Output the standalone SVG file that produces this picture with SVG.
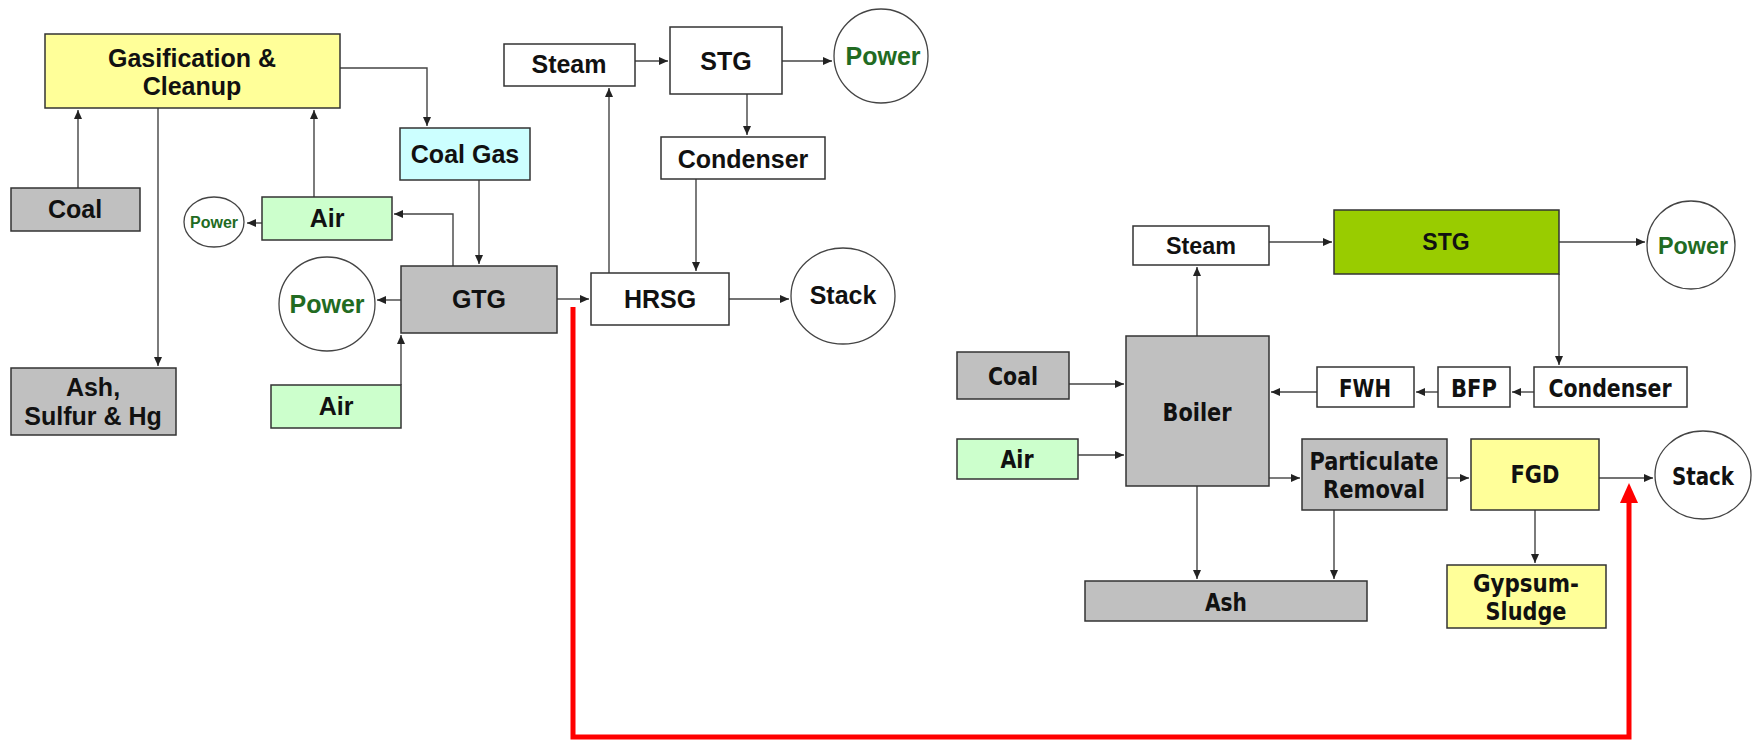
<svg xmlns="http://www.w3.org/2000/svg" width="1757" height="740" viewBox="0 0 1757 740">
<defs>
<style>
.b{stroke:#333;stroke-width:1.5}
.gray{fill:#C0C0C0}.yel{fill:#FFFF99}.grn{fill:#CCFFCC}.cyan{fill:#CCFFFF}.wht{fill:#FFFFFF}.lime{fill:#99CC00}
.c{fill:#fff;stroke:#444;stroke-width:1.3}
.t{font-family:"Liberation Sans",Arial,sans-serif;font-weight:bold;font-size:25px;fill:#111;text-anchor:middle}
.tr{font-family:"Liberation Sans",Arial,sans-serif;font-weight:bold;font-size:23px;fill:#111;text-anchor:middle}
.tc{font-family:"DejaVu Sans Condensed","DejaVu Sans",sans-serif;font-stretch:condensed;font-weight:bold;font-size:25px;fill:#111;text-anchor:middle}
.pw{fill:#226B22}
.ln{fill:none;stroke:#444;stroke-width:1.4}
</style>
<marker id="ah" markerWidth="10" markerHeight="10" refX="9" refY="5" orient="auto" markerUnits="userSpaceOnUse">
<path d="M0,1 L9,5 L0,9 Z" fill="#222"/>
</marker>
</defs>
<rect width="1757" height="740" fill="#fff"/>

<g id="connectors">
<path class="ln" d="M78,188 V110" marker-end="url(#ah)"/>
<path class="ln" d="M158,108 V366" marker-end="url(#ah)"/>
<path class="ln" d="M340,68 H427 V126" marker-end="url(#ah)"/>
<path class="ln" d="M314,197 V110" marker-end="url(#ah)"/>
<path class="ln" d="M262,223 H247" marker-end="url(#ah)"/>
<path class="ln" d="M453,266 V214 H394" marker-end="url(#ah)"/>
<path class="ln" d="M479,180 V264" marker-end="url(#ah)"/>
<path class="ln" d="M401,300 H377" marker-end="url(#ah)"/>
<path class="ln" d="M401,385 V335" marker-end="url(#ah)"/>
<path class="ln" d="M557,299 H589" marker-end="url(#ah)"/>
<path class="ln" d="M729,299 H789" marker-end="url(#ah)"/>
<path class="ln" d="M609,273 V88" marker-end="url(#ah)"/>
<path class="ln" d="M635,61 H668" marker-end="url(#ah)"/>
<path class="ln" d="M782,61 H832" marker-end="url(#ah)"/>
<path class="ln" d="M747,94 V135" marker-end="url(#ah)"/>
<path class="ln" d="M696,179 V271" marker-end="url(#ah)"/>

<path class="ln" d="M1197,336 V267" marker-end="url(#ah)"/>
<path class="ln" d="M1269,242 H1332" marker-end="url(#ah)"/>
<path class="ln" d="M1559,242 H1645" marker-end="url(#ah)"/>
<path class="ln" d="M1559,274 V365" marker-end="url(#ah)"/>
<path class="ln" d="M1534,392 H1512" marker-end="url(#ah)"/>
<path class="ln" d="M1438,392 H1416" marker-end="url(#ah)"/>
<path class="ln" d="M1317,392 H1271" marker-end="url(#ah)"/>
<path class="ln" d="M1069,384 H1124" marker-end="url(#ah)"/>
<path class="ln" d="M1078,455 H1124" marker-end="url(#ah)"/>
<path class="ln" d="M1269,478 H1300" marker-end="url(#ah)"/>
<path class="ln" d="M1447,478 H1469" marker-end="url(#ah)"/>
<path class="ln" d="M1599,478 H1653" marker-end="url(#ah)"/>
<path class="ln" d="M1197,486 V579" marker-end="url(#ah)"/>
<path class="ln" d="M1334,510 V579" marker-end="url(#ah)"/>
<path class="ln" d="M1535,510 V563" marker-end="url(#ah)"/>

<path d="M573,307 V737 H1629 V500" fill="none" stroke="#FF0000" stroke-width="5"/>
<path d="M1629,483 L1638,503 L1620,503 Z" fill="#FF0000"/>
</g>

<g id="gasification"><rect class="b yel" x="45" y="34" width="295" height="74"/><text class="t" x="192" y="67">Gasification &amp;</text><text class="t" x="192" y="95">Cleanup</text></g>
<g id="coal-left"><rect class="b gray" x="11" y="188" width="129" height="43"/><text class="t" x="75" y="218">Coal</text></g>
<g id="ash-sulfur"><rect class="b gray" x="11" y="368" width="165" height="67"/><text class="t" x="93" y="396">Ash,</text><text class="t" x="93" y="425">Sulfur &amp; Hg</text></g>
<g id="coal-gas"><rect class="b cyan" x="400" y="128" width="130" height="52"/><text class="t" x="465" y="163">Coal Gas</text></g>
<g id="air-top"><rect class="b grn" x="262" y="197" width="130" height="43"/><text class="t" x="327" y="227">Air</text></g>
<g id="power-small"><ellipse class="c" cx="214" cy="222" rx="30" ry="25"/><text class="t pw" x="214" y="228" style="font-size:16px">Power</text></g>
<g id="power-gtg"><ellipse class="c" cx="327" cy="304" rx="48" ry="47"/><text class="t pw" x="327" y="313">Power</text></g>
<g id="gtg"><rect class="b gray" x="401" y="266" width="156" height="67"/><text class="t" x="479" y="308">GTG</text></g>
<g id="air-bottom"><rect class="b grn" x="271" y="385" width="130" height="43"/><text class="t" x="336" y="415">Air</text></g>
<g id="hrsg"><rect class="b wht" x="591" y="273" width="138" height="52"/><text class="t" x="660" y="308">HRSG</text></g>
<g id="stack-left"><ellipse class="c" cx="843" cy="296" rx="52" ry="48"/><text class="t" x="843" y="304">Stack</text></g>
<g id="steam-top"><rect class="b wht" x="504" y="44" width="131" height="42"/><text class="t" x="569" y="73">Steam</text></g>
<g id="stg-top"><rect class="b wht" x="670" y="27" width="112" height="67"/><text class="t" x="726" y="70">STG</text></g>
<g id="power-top"><ellipse class="c" cx="881" cy="56" rx="47" ry="47"/><text class="t pw" x="883" y="65">Power</text></g>
<g id="condenser-top"><rect class="b wht" x="661" y="137" width="164" height="42"/><text class="t" x="743" y="168">Condenser</text></g>

<g id="steam-right"><rect class="b wht" x="1133" y="226" width="136" height="39"/><text class="tr" x="1201" y="254" textLength="70" lengthAdjust="spacingAndGlyphs">Steam</text></g>
<g id="stg-right"><rect class="b lime" x="1334" y="210" width="225" height="64"/><text class="tr" x="1446" y="250">STG</text></g>
<g id="power-right"><ellipse class="c" cx="1691" cy="245" rx="44" ry="44"/><text class="tr pw" x="1693" y="254" textLength="70" lengthAdjust="spacingAndGlyphs">Power</text></g>
<g id="coal-right"><rect class="b gray" x="957" y="352" width="112" height="47"/><text class="tc" x="1013" y="385" textLength="50" lengthAdjust="spacingAndGlyphs">Coal</text></g>
<g id="air-right"><rect class="b grn" x="957" y="439" width="121" height="40"/><text class="tc" x="1017" y="468" textLength="33" lengthAdjust="spacingAndGlyphs">Air</text></g>
<g id="boiler"><rect class="b gray" x="1126" y="336" width="143" height="150"/><text class="tc" x="1197" y="421" textLength="69" lengthAdjust="spacingAndGlyphs">Boiler</text></g>
<g id="fwh"><rect class="b wht" x="1317" y="367" width="97" height="40"/><text class="tc" x="1365" y="397" textLength="52" lengthAdjust="spacingAndGlyphs">FWH</text></g>
<g id="bfp"><rect class="b wht" x="1438" y="367" width="72" height="40"/><text class="tc" x="1474" y="397" textLength="46" lengthAdjust="spacingAndGlyphs">BFP</text></g>
<g id="condenser-right"><rect class="b wht" x="1534" y="367" width="153" height="40"/><text class="tc" x="1610" y="397" textLength="123" lengthAdjust="spacingAndGlyphs">Condenser</text></g>
<g id="particulate"><rect class="b gray" x="1302" y="439" width="145" height="71"/><text class="tc" x="1374" y="470" textLength="129" lengthAdjust="spacingAndGlyphs">Particulate</text><text class="tc" x="1374" y="498" textLength="102" lengthAdjust="spacingAndGlyphs">Removal</text></g>
<g id="fgd"><rect class="b yel" x="1471" y="439" width="128" height="71"/><text class="tc" x="1535" y="483" textLength="49" lengthAdjust="spacingAndGlyphs">FGD</text></g>
<g id="stack-right"><ellipse class="c" cx="1703" cy="475" rx="48" ry="44"/><text class="tc" x="1703" y="485" textLength="62" lengthAdjust="spacingAndGlyphs">Stack</text></g>
<g id="ash-right"><rect class="b gray" x="1085" y="581" width="282" height="40"/><text class="tc" x="1226" y="611" textLength="42" lengthAdjust="spacingAndGlyphs">Ash</text></g>
<g id="gypsum"><rect class="b yel" x="1447" y="565" width="159" height="63"/><text class="tc" x="1526" y="592" textLength="106" lengthAdjust="spacingAndGlyphs">Gypsum-</text><text class="tc" x="1526" y="620" textLength="81" lengthAdjust="spacingAndGlyphs">Sludge</text></g>
</svg>
